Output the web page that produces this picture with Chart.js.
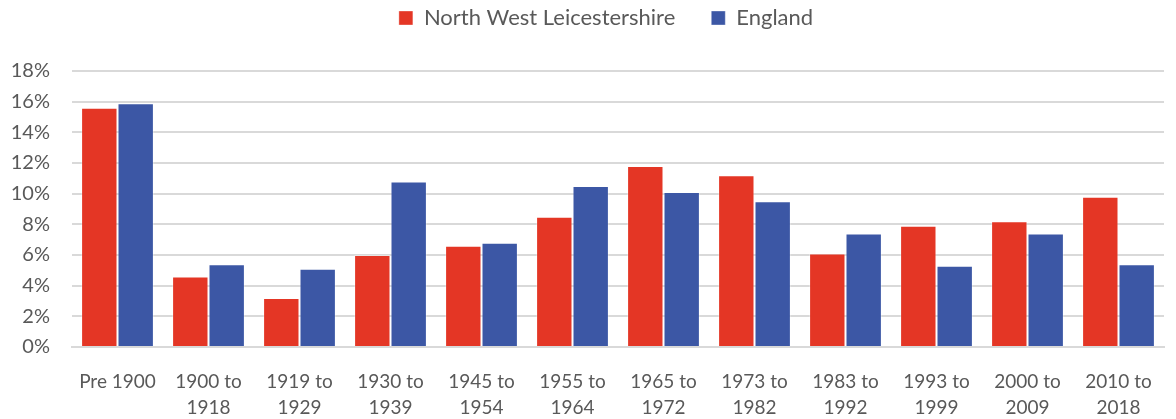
<!DOCTYPE html>
<html lang="en">
<head>
    <meta charset="UTF-8">
    <title>Dwelling age - North West Leicestershire vs England</title>
    <script src="https://cdn.jsdelivr.net/npm/chart.js"></script>
    <style>
        body { margin: 0; background: #fff; }
        #wrap { width: 1176px; height: 419px; }
    </style>
</head>
<body>
    <div id="wrap">
        <canvas id="myChart"></canvas>
    </div>
    <script>
        // categories (age bands)
        const categories = [
            ['Pre 1900'], ['1900 to', '1918'], ['1919 to', '1929'], ['1930 to', '1939'],
            ['1945 to', '1954'], ['1955 to', '1964'], ['1965 to', '1972'], ['1973 to', '1982'],
            ['1983 to', '1992'], ['1993 to', '1999'], ['2000 to', '2009'], ['2010 to', '2018']
        ];
        // share of dwellings, %
        const nwLeics = [15.6, 4.6, 3.2, 6.0, 6.6, 8.5, 11.8, 11.2, 6.1, 7.9, 8.2, 9.8];
        const england = [15.9, 5.4, 5.1, 10.8, 6.8, 10.5, 10.1, 9.5, 7.4, 5.3, 7.4, 5.4];
        const yTicks = [0, 2, 4, 6, 8, 10, 12, 14, 16, 18];

        const textColor = '#595959';
        const gridColor = '#d9d9d9';
        const fontFamily = 'Lato, "Open Sans", sans-serif';

        // extra gap between legend and plot, and nudge legend right a bit
        const legendTweak = {
            id: 'legendTweak',
            beforeInit(chart) {
                const fit = chart.legend.fit;
                chart.legend.fit = function () {
                    fit.bind(chart.legend)();
                    this.height += 32;
                };
            },
            afterLayout(chart) {
                chart.legend.left += 24;
                chart.legend.right += 24;
            }
        };

        const ctx = document.getElementById('myChart').getContext('2d');
        new Chart(ctx, {
            type: 'bar',
            data: {
                labels: categories,
                datasets: [{
                    label: 'North West Leicestershire',
                    data: nwLeics,
                    backgroundColor: '#e43625',
                    borderColor: 'rgba(255,255,255,0.35)',
                    borderWidth: 1,
                    categoryPercentage: 0.8,
                    barPercentage: 1.0
                }, {
                    label: 'England',
                    data: england,
                    backgroundColor: '#3c57a5',
                    borderColor: 'rgba(255,255,255,0.35)',
                    borderWidth: 1,
                    categoryPercentage: 0.8,
                    barPercentage: 1.0
                }]
            },
            plugins: [legendTweak],
            options: {
                responsive: true,
                maintainAspectRatio: false,
                animation: false,
                layout: { padding: { left: 0, right: 12, top: -29, bottom: -16 } },
                plugins: {
                    legend: {
                        position: 'top',
                        labels: {
                            color: textColor,
                            font: { family: fontFamily, size: 22 },
                            boxWidth: 14,
                            boxHeight: 14,
                            padding: 36
                        }
                    },
                    tooltip: { enabled: false }
                },
                scales: {
                    x: {
                        grid: { display: false },
                        border: { display: true, color: gridColor, width: 2 },
                        afterFit: s => { s.paddingLeft = 0; s.paddingRight = 0; },
                        ticks: {
                            color: textColor,
                            font: { family: fontFamily, size: 19, lineHeight: 1.37 },
                            maxRotation: 0,
                            autoSkip: false,
                            padding: 14
                        }
                    },
                    y: {
                        min: 0,
                        max: 18,
                        afterBuildTicks: axis => { axis.ticks = yTicks.map(v => ({ value: v })); },
                        afterFit: s => { s.width = 72; },
                        grid: { color: gridColor, lineWidth: 2, drawTicks: false },
                        border: { display: false },
                        ticks: {
                            color: textColor,
                            font: { family: fontFamily, size: 20 },
                            padding: 22,
                            callback: v => v + '%'
                        }
                    }
                }
            }
        });
    </script>
</body>
</html>
